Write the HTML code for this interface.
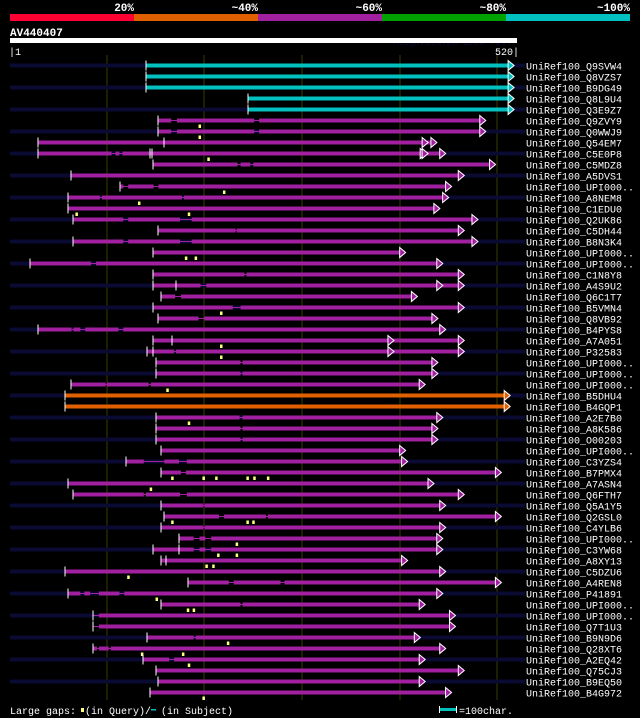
<!DOCTYPE html>
<html><head><meta charset="utf-8"><style>
html,body{margin:0;padding:0;background:#000;}
svg{display:block;}
text{font-family:"Liberation Mono","DejaVu Sans Mono",monospace;}
</style></head><body>
<svg id="chart" width="640" height="718" viewBox="0 0 640 718" xmlns="http://www.w3.org/2000/svg">
<rect width="640" height="718" fill="#000"/>
<g id="header">
  <rect x="10" y="14" width="124" height="7" fill="#ff0033"/>
  <rect x="134" y="14" width="124" height="7" fill="#e06000"/>
  <rect x="258" y="14" width="124" height="7" fill="#a020a0"/>
  <rect x="382" y="14" width="124" height="7" fill="#00a000"/>
  <rect x="506" y="14" width="124" height="7" fill="#00c0c0"/>
  <text x="134" y="11" fill="#fff" font-size="11" font-weight="bold" text-anchor="end">20%</text>
  <text x="258" y="11" fill="#fff" font-size="11" font-weight="bold" text-anchor="end">~40%</text>
  <text x="382" y="11" fill="#fff" font-size="11" font-weight="bold" text-anchor="end">~60%</text>
  <text x="506" y="11" fill="#fff" font-size="11" font-weight="bold" text-anchor="end">~80%</text>
  <text x="630" y="11" fill="#fff" font-size="11" font-weight="bold" text-anchor="end">~100%</text>
  <text x="10" y="36" fill="#fff" font-size="11" font-weight="bold">AV440407</text>
  <text x="517" y="45" fill="#0a0a3a" font-size="9" text-anchor="end">AlignView.pm Beta rel.7</text>
  <rect x="10" y="38" width="507" height="5" fill="#fff"/>
  <text x="9" y="55" fill="#fff" font-size="10">|1</text>
  <text x="519" y="55" fill="#fff" font-size="10" text-anchor="end">520|</text>
</g>
<g id="grid"></g>
<g id="rows"></g>
<g id="legend">
  <text x="10" y="714" fill="#fff" font-size="10">Large gaps:</text>
  <rect x="81" y="708" width="3" height="4" fill="#ffff80"/>
  <text x="85" y="714" fill="#fff" font-size="10">(in Query)/</text>
  <rect x="151" y="709" width="5" height="1.5" fill="#00c0c0"/>
  <text x="161" y="714" fill="#fff" font-size="10">(in Subject)</text>
  <rect x="439" y="706" width="1" height="7" fill="#fff"/>
  <rect x="440" y="708" width="16" height="3" fill="#00c0c0"/>
  <rect x="456" y="706" width="1" height="7" fill="#fff"/>
  <text x="459" y="714" fill="#fff" font-size="10">=100char.</text>
</g>
</svg>
<script>
const names=["Q9SVW4","Q8VZS7","B9DG49","Q8L9U4","Q3E9Z7","Q9ZVY9","Q0WWJ9","Q54EM7","C5E0P8","C5MDZ8","A5DVS1","UPI000..","A8NEM8","C1EDU0","Q2UK86","C5DH44","B8N3K4","UPI000..","UPI000..","C1N8Y8","A4S9U2","Q6C1T7","B5VMN4","Q8VB92","B4PYS8","A7A051","P32583","UPI000..","UPI000..","UPI000..","B5DHU4","B4GQP1","A2E7B0","A8K586","O00203","UPI000..","C3YZS4","B7PMX4","A7ASN4","Q6FTH7","Q5A1Y5","Q2GSL0","C4YLB6","UPI000..","C3YW68","A8XY13","C5DZU6","A4REN8","P41891","UPI000..","UPI000..","Q7T1U3","B9N9D6","Q28XT6","A2EQ42","Q75CJ3","B9EQ50","B4G972"];
const starts=[140,140,140,245,245,153,153,30,30,147,63,114,60,60,66,153,66,147,21,147,147,156,147,153,30,147,141,150,150,63,57,57,150,150,150,156,120,156,60,66,156,159,156,174,147,156,57,183,60,156,86,86,141,86,137,150,153,144];
const ends=[516,516,516,516,516,487,487,437,446,497,465,452,449,440,479,465,479,405,443,465,465,417,465,438,446,465,465,438,438,425,512,512,443,438,438,405,407,503,434,465,446,503,446,443,443,407,446,503,443,425,456,456,420,446,425,465,425,452];
const identity=[5,5,5,5,5,3,3,3,3,3,3,3,3,3,3,3,3,3,3,3,3,3,3,3,3,3,3,3,3,3,2,2,3,3,3,3,3,3,3,3,3,3,3,3,3,3,3,3,3,3,3,3,3,3,3,3,3,3];
const hasSubjectExtent=[1,0,1,0,1,0,1,0,1,0,1,0,1,0,1,0,1,0,1,0,1,0,1,0,1,0,1,0,1,0,1,0,1,0,1,0,1,0,1,0,1,0,1,0,1,0,1,0,1,0,1,0,1,0,1,0,1,0];
const subjectGaps=[[],[],[],[],[],[[166,172],[251,256]],[[166,172],[251,256]],[],[[105,109],[113,116]],[[234,237],[247,250]],[],[[117,122],[148,153]],[[93,95],[177,179]],[],[[117,122],[175,187]],[[232,233]],[[117,122],[175,187]],[],[[84,89]],[[241,243]],[[196,202]],[[170,176]],[[229,237]],[[194,200]],[[64,66],[73,78],[112,117]],[],[[169,171]],[[237,239]],[[237,239]],[[99,100],[143,145]],[],[],[[236,239]],[[237,239]],[[237,239]],[],[[138,159],[174,182]],[[176,181]],[],[[138,140],[175,182]],[[199,200]],[[215,220],[263,265]],[[199,200]],[[189,195],[201,207]],[[189,195],[201,207]],[],[],[[225,230],[278,282]],[[73,77],[83,92],[113,118]],[[237,239]],[[86,92]],[[86,92]],[[189,191]],[[90,92],[102,104]],[[164,169]],[],[],[]];
const extraStarts=[[],[],[],[],[],[],[],[159],[144,146],[],[],[],[],[],[],[],[],[],[],[],[171],[],[],[],[],[167],[147],[],[],[],[],[],[],[],[],[],[],[],[],[],[],[],[],[],[174],[161],[],[],[],[],[],[],[],[],[],[],[],[]];
const extraEnds=[[],[],[],[],[],[],[],[428],[426,428],[],[],[],[],[],[],[],[],[],[],[],[443],[],[],[],[],[393],[393],[],[],[],[],[],[],[],[],[],[],[],[],[],[],[],[],[],[],[],[],[],[],[],[],[],[],[],[],[],[],[]];
const queryGaps=[[],[],[],[],[],[195],[195],[],[204],[],[],[220],[133],[69,184],[],[],[],[181,191],[],[],[],[],[217],[],[],[217],[217],[],[],[162],[],[],[184],[],[],[],[],[167,199,212,244,251,265],[145],[],[],[167,244,250],[],[233],[214,233],[202,209],[122],[],[151],[183,189],[],[],[224],[136,178],[184],[],[],[199]];
const identityColors=["#ff0033","#e06000","#e06000","#a020a0","#00a000","#00c0c0"];
const gridTicks=[100,200,300,400,500];

const NS="http://www.w3.org/2000/svg";
const svg=document.getElementById('chart');
const gridG=document.getElementById('grid');
const rowsG=document.getElementById('rows');
function xScale(c){return 10+(c-1)*(507/519);}
function yRow(i){return 65.5+i*11;}
function mk(tag,attrs,parent){const e=document.createElementNS(NS,tag);for(const k in attrs)e.setAttribute(k,attrs[k]);parent.appendChild(e);return e;}

gridTicks.forEach(function(t){
  const l=mk('rect',{x:Math.round(xScale(t))-0.5,y:55,width:1,height:645,fill:'#3a3a00'},gridG);
  
  
});

names.forEach(function(n,i){
  const y=yRow(i);
  const col=identityColors[identity[i]];
  const g=mk('g',{},rowsG);
  
  
  if(hasSubjectExtent[i]){
    const d=mk('rect',{x:10,y:y-2,width:515,height:4,fill:'#0a0a33'},g);
    
    
  }
  const x0=xScale(starts[i]),x1=xScale(ends[i]);
  const thin=mk('rect',{x:x0,y:y-0.5,width:x1-x0,height:1,fill:col},g);
  
  
  const gaps=subjectGaps[i].slice().sort(function(a,b){return a[0]-b[0];});
  let cur=starts[i];
  const segs=[];
  gaps.forEach(function(gp){segs.push([cur,gp[0]]);cur=gp[1];});
  segs.push([cur,ends[i]]);
  segs.forEach(function(s){
    const a=xScale(s[0]),b=xScale(s[1]);
    const r=mk('rect',{x:a,y:y-2,width:Math.max(0,b-a),height:4,fill:col},g);
    
    
  });
  [starts[i]].concat(extraStarts[i]).forEach(function(s){
    const t=mk('rect',{x:Math.round(xScale(s))-0.5,y:y-5,width:1,height:10,fill:'#fff'},g);
    
    
  });
  [ends[i]].concat(extraEnds[i]).forEach(function(e){
    const ex=xScale(e);
    const p=mk('polygon',{points:(ex-5)+','+(y-5)+' '+(ex+1)+','+y+' '+(ex-5)+','+(y+5),fill:col,stroke:'#fff','stroke-width':1},g);
    
    
  });
  queryGaps[i].forEach(function(q){
    const qx=xScale(q);
    const m=mk('rect',{x:qx-1,y:y+4,width:2.5,height:3.5,fill:'#ffff80'},g);
    
    
  });
  const tx=mk('text',{x:526,y:y+4,fill:'#fff','font-size':'10'},g);
  tx.textContent='UniRef100_'+n;
  
  
});
</script>
</body></html>
